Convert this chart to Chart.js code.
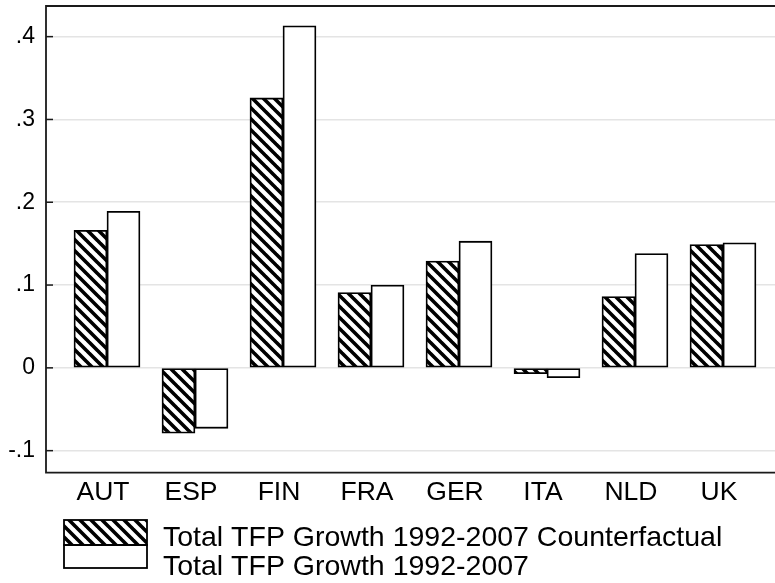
<!DOCTYPE html>
<html>
<head>
<meta charset="utf-8">
<script src="https://cdn.jsdelivr.net/npm/chart.js@4.4.1/dist/chart.umd.min.js"></script>
<style>
  html, body { margin: 0; padding: 0; background: #fff; }
  #wrap { width: 775px; height: 583px; }
</style>
</head>
<body>
<div id="wrap"><canvas id="chart" width="775" height="583"></canvas></div>
<script>
// Data
const countries = ['AUT', 'ESP', 'FIN', 'FRA', 'GER', 'ITA', 'NLD', 'UK'];
const counterfactual = [0.166, -0.079, 0.326, 0.091, 0.129, -0.007, 0.086, 0.149];
const actual = [0.189, -0.073, 0.413, 0.100, 0.153, -0.012, 0.138, 0.151];
const seriesNames = ['Total TFP Growth 1992-2007 Counterfactual', 'Total TFP Growth 1992-2007'];
const yTicks = [-0.1, 0, 0.1, 0.2, 0.3, 0.4];

const FONT = '"Liberation Sans", Arial, Helvetica, sans-serif';

// diagonal hatch fill, "\\\\" direction
function makeHatch() {
    const s = 11;
    const c = document.createElement('canvas');
    c.width = s; c.height = s;
    const g = c.getContext('2d');
    g.fillStyle = '#fff';
    g.fillRect(0, 0, s, s);
    g.strokeStyle = '#000';
    g.lineWidth = 3.6;
    g.beginPath();
    for (let k = -1; k <= 1; k++) {
        g.moveTo(k * s - 1, -1);
        g.lineTo(k * s + s + 1, s + 1);
    }
    g.stroke();
    return document.getElementById('chart').getContext('2d').createPattern(c, 'repeat');
}
const hatch = makeHatch();

function fmtTick(v) {
    const r = Math.round(v * 10) / 10;
    if (r === 0) return '0';
    return String(r).replace('0.', '.');
}

// Stata-like frame, inner ticks and stacked key
const stataFrame = {
    id: 'stataFrame',
    afterDatasetsDraw(chart) {
        const { ctx, chartArea: a, scales } = chart;
        ctx.save();
        ctx.strokeStyle = '#1a1a1a';
        ctx.lineWidth = 1.8;
        ctx.beginPath();
        ctx.moveTo(a.right + 5, a.top);
        ctx.lineTo(a.left, a.top);
        ctx.lineTo(a.left, a.bottom);
        ctx.lineTo(a.right + 5, a.bottom);
        ctx.stroke();
        ctx.lineWidth = 1.5;
        yTicks.forEach(t => {
            const y = scales.y.getPixelForValue(t);
            ctx.beginPath();
            ctx.moveTo(a.left, y);
            ctx.lineTo(a.left + 7, y);
            ctx.stroke();
        });
        ctx.restore();
    },
    afterDraw(chart) {
        const { ctx } = chart;
        const bx = 64, by = 520, bw = 83, bh1 = 25, bh2 = 23;
        ctx.save();
        ctx.fillStyle = hatch;
        ctx.fillRect(bx, by, bw, bh1);
        ctx.fillStyle = '#fff';
        ctx.fillRect(bx, by + bh1, bw, bh2);
        ctx.strokeStyle = '#000';
        ctx.lineWidth = 1.8;
        ctx.strokeRect(bx, by, bw, bh1);
        ctx.strokeRect(bx, by + bh1, bw, bh2);
        ctx.fillStyle = '#000';
        ctx.font = '28.5px ' + FONT;
        ctx.textBaseline = 'alphabetic';
        ctx.fillText(seriesNames[0], 163, 546);
        ctx.fillText(seriesNames[1], 163, 575);
        ctx.restore();
    }
};

const xMin = -0.693;
const xMax = xMin + 729 / 88;

new Chart(document.getElementById('chart'), {
    type: 'bar',
    data: {
        datasets: [
            {
                label: seriesNames[0],
                data: counterfactual.map((v, i) => ({ x: i, y: v })),
                backgroundColor: hatch,
                borderColor: '#000',
                borderWidth: 1.8,
                borderSkipped: false,
                barThickness: 33
            },
            {
                label: seriesNames[1],
                data: actual.map((v, i) => ({ x: i, y: v })),
                backgroundColor: '#fff',
                borderColor: '#000',
                borderWidth: 1.8,
                borderSkipped: false,
                barThickness: 33
            }
        ]
    },
    options: {
        responsive: false,
        animation: false,
        events: [],
        layout: { padding: { top: 6, right: 0, left: 0, bottom: 0 } },
        plugins: {
            legend: { display: false },
            tooltip: { enabled: false }
        },
        scales: {
            x: {
                type: 'linear',
                offset: false,
                min: xMin,
                max: xMax,
                afterFit(s) { s.height = 110.4; s.paddingLeft = 0; s.paddingRight = 0; },
                grid: { display: false, drawTicks: false, offset: false },
                border: { display: false },
                ticks: {
                    stepSize: 1,
                    includeBounds: false,
                    autoSkip: false,
                    maxRotation: 0,
                    padding: 4,
                    labelOffset: -4,
                    color: '#000',
                    font: { family: FONT, size: 26.5 },
                    callback: v => Number.isInteger(v) && countries[v] ? countries[v] : ''
                }
            },
            y: {
                min: -0.1265,
                max: 0.437,
                afterFit(s) { s.width = 46; s.paddingTop = 0; s.paddingBottom = 0; },
                afterBuildTicks(s) { s.ticks = yTicks.map(v => ({ value: v })); },
                grid: { color: '#e4e4e4', lineWidth: 1.5, drawTicks: false },
                border: { display: false },
                ticks: {
                    padding: 11,
                    color: '#000',
                    font: { family: FONT, size: 23 },
                    callback: v => fmtTick(v)
                }
            }
        }
    },
    plugins: [stataFrame]
});
</script>
</body>
</html>
